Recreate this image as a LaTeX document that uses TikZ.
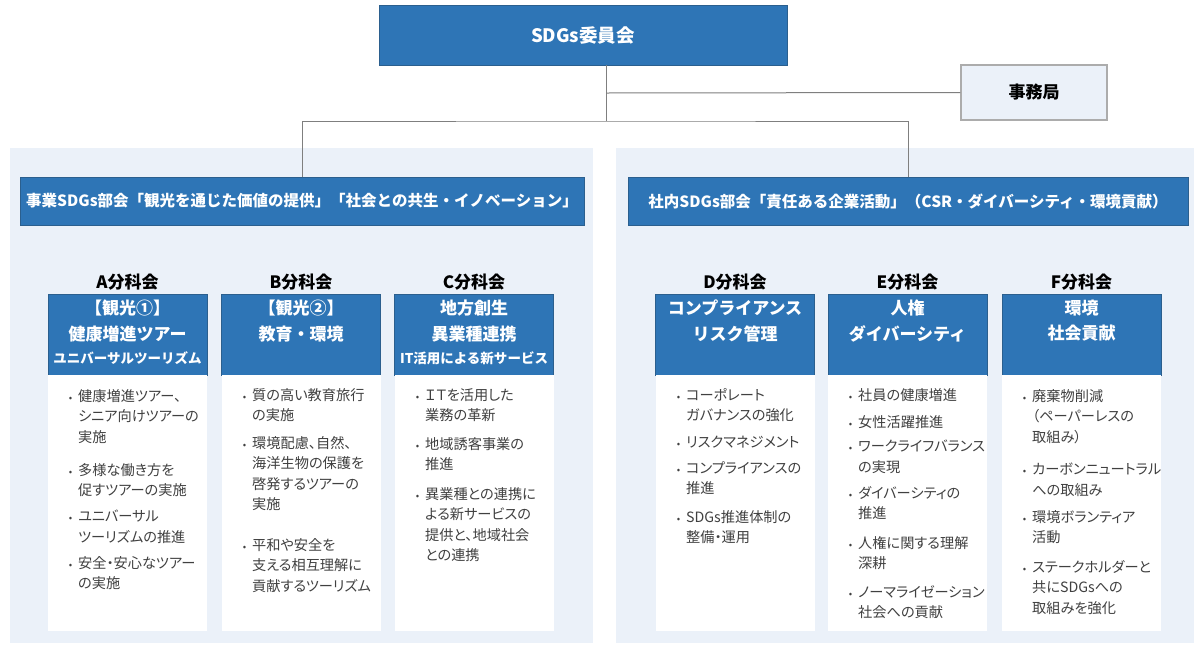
\documentclass[tikz,border=0pt]{standalone}
\usepackage{fontspec}
\setmainfont{Noto Sans CJK JP}
\newfontfamily\propjp{Noto Sans CJK JP}[RawFeature=+palt]
\usepackage{xcolor}
\usepackage{tikz}
\usetikzlibrary{positioning}

\definecolor{sdgblue}{HTML}{2E75B6}
\definecolor{sdgedge}{HTML}{2B5F8E}
\definecolor{panelbg}{HTML}{EBF1F9}
\definecolor{textgray}{HTML}{404040}
\definecolor{linegray}{HTML}{7F7F7F}

\newcommand{\bul}{\llap{{\fontsize{10}{10}\selectfont\textbullet}\hspace{6pt}}}

\tikzset{
  bluebox/.style={draw=sdgedge, fill=sdgblue, text=white, inner sep=0},
  topbox/.style={bluebox, minimum width=408, minimum height=60, font=\bfseries\fontsize{18.5}{22}\selectfont},
  officebox/.style={draw=gray!65, line width=1.5pt, fill=panelbg, minimum width=146, minimum height=55, font=\bfseries\fontsize{17}{20}\selectfont},
  panel/.style={fill=panelbg, inner sep=0, minimum height=495},
  headbar/.style={bluebox, minimum height=48, font=\bfseries\fontsize{15.5}{18}\selectfont},
  unitlabel/.style={inner sep=0, font=\bfseries\fontsize{17}{20}\selectfont},
  unitbox/.style={bluebox, minimum width=159, minimum height=81},
  unittext/.style={inner sep=0, text=white, align=center, font=\bfseries\fontsize{17}{25.5}\selectfont},
  listbox/.style={fill=white, inner sep=0, minimum width=159, minimum height=256},
  item/.style={anchor=north west, inner sep=0, align=left, text=textgray, font=\propjp\fontsize{14.2}{20.5}\selectfont},
  link/.style={draw=linegray, line width=1pt}
}

\begin{document}
\begin{tikzpicture}[x=1pt,y=-1pt]

\fill[white] (0,0) rectangle (1196,646);
\useasboundingbox (0,0) rectangle (1196,646);

% panels
\node[panel, minimum width=583] (lpanel) at (301.5,395.5) {};
\node[panel, minimum width=578] (rpanel) at (905,395.5) {};

% top
\node[topbox] (top) at (583,35) {SDGs委員会};
\node[officebox] (office) at (1034,92.5) {事務局};

\node[headbar, minimum width=564] (lhead) at (302,201) {事業SDGs部会「観光を通じた価値の提供」「社会との共生・イノベーション」};
\node[headbar, minimum width=560] (rhead) at (908,201) {社内SDGs部会「責任ある企業活動」（CSR・ダイバーシティ・環境貢献）};

\coordinate (jct) at (606,93);
\coordinate (split) at (606,121);
\draw[link] (top.south -| jct) -- (split);
\draw[link] (jct) -- (office.west);
\draw[link] (lhead.north) |- (split) -| (rhead.north);

% subcommittees
\node[unitlabel] (alab) at (127.5,282) {A分科会};
\node[unitlabel] (blab) at (301,282) {B分科会};
\node[unitlabel] (clab) at (474,282) {C分科会};
\node[unitlabel] (dlab) at (735,282) {D分科会};
\node[unitlabel] (elab) at (907.5,282) {E分科会};
\node[unitlabel] (flab) at (1081.5,282) {F分科会};

\node[unitbox] (abox) at (127.5,334.5) {};
\node[unitbox] (bbox) at (301,334.5) {};
\node[unitbox] (cbox) at (474,334.5) {};
\node[unitbox] (dbox) at (735,334.5) {};
\node[unitbox] (ebox) at (907.5,334.5) {};
\node[unitbox] (fbox) at (1081.5,334.5) {};

\node[unittext, below=6pt of abox.north] (atext) {【観光①】\\健康増進ツアー\\[-2pt]{\fontsize{13.5}{16}\selectfont ユニバーサルツーリズム}};
\node[unittext, below=6pt of bbox.north] (btext) {【観光②】\\教育・環境};
\node[unittext, below=6pt of cbox.north] (ctext) {地方創生\\異業種連携\\[-2pt]{\fontsize{13.5}{16}\selectfont IT活用による新サービス}};
\node[unittext, below=6pt of dbox.north] (dtext) {コンプライアンス\\リスク管理};
\node[unittext, below=6pt of ebox.north] (etext) {人権\\ダイバーシティ};
\node[unittext, below=6pt of fbox.north] (ftext) {環境\\社会貢献};

\node[listbox, below=0pt of abox] (alist) {};
\node[listbox, below=0pt of bbox] (blist) {};
\node[listbox, below=0pt of cbox] (clist) {};
\node[listbox, below=0pt of dbox] (dlist) {};
\node[listbox, below=0pt of ebox] (elist) {};
\node[listbox, below=0pt of fbox] (flist) {};

% A
\node[item] (a1) at (78,389) {\bul 健康増進ツアー、\\シニア向けツアーの\\実施};
\node[item] (a2) at (78,463) {\bul 多様な働き方を\\促すツアーの実施};
\node[item] (a3) at (78,510) {\bul ユニバーサル\\ツーリズムの推進};
\node[item] (a4) at (78,556) {\bul 安全・安心なツアー\\の実施};

% B
\node[item] (b1) at (252,388) {\bul 質の高い教育旅行\\の実施};
\node[item] (b2) at (252,436) {\bul 環境配慮、自然、\\海洋生物の保護を\\啓発するツアーの\\実施};
\node[item] (b3) at (252,538) {\bul 平和や安全を\\支える相互理解に\\貢献するツーリズム};

% C
\node[item] (c1) at (425,388) {\bul ＩＴを活用した\\業務の革新};
\node[item] (c2) at (425,437) {\bul 地域誘客事業の\\推進};
\node[item] (c3) at (425,487) {\bul 異業種との連携に\\よる新サービスの\\提供と、地域社会\\との連携};

% D
\node[item] (d1) at (686,388) {\bul コーポレート\\ガバナンスの強化};
\node[item] (d2) at (686,436) {\bul リスクマネジメント};
\node[item] (d3) at (686,461) {\bul コンプライアンスの\\推進};
\node[item] (d4) at (686,510) {\bul SDGs推進体制の\\整備・運用};

% E
\node[item] (e1) at (858,388) {\bul 社員の健康増進};
\node[item] (e2) at (858,415) {\bul 女性活躍推進};
\node[item] (e3) at (858,440) {\bul ワークライフバランス\\の実現};
\node[item] (e4) at (858,486) {\bul ダイバーシティの\\推進};
\node[item] (e5) at (858,536) {\bul 人権に関する理解\\深耕};
\node[item] (e6) at (858,585) {\bul ノーマライゼーション\\社会への貢献};

% F
\node[item] (f1) at (1032,389) {\bul 廃棄物削減\\（ペーパーレスの\\取組み）};
\node[item] (f2) at (1032,463) {\bul カーボンニュートラル\\への取組み};
\node[item] (f3) at (1032,510) {\bul 環境ボランティア\\活動};
\node[item] (f4) at (1032,560) {\bul ステークホルダーと\\共にSDGsへの\\取組みを強化};

\end{tikzpicture}
\end{document}
